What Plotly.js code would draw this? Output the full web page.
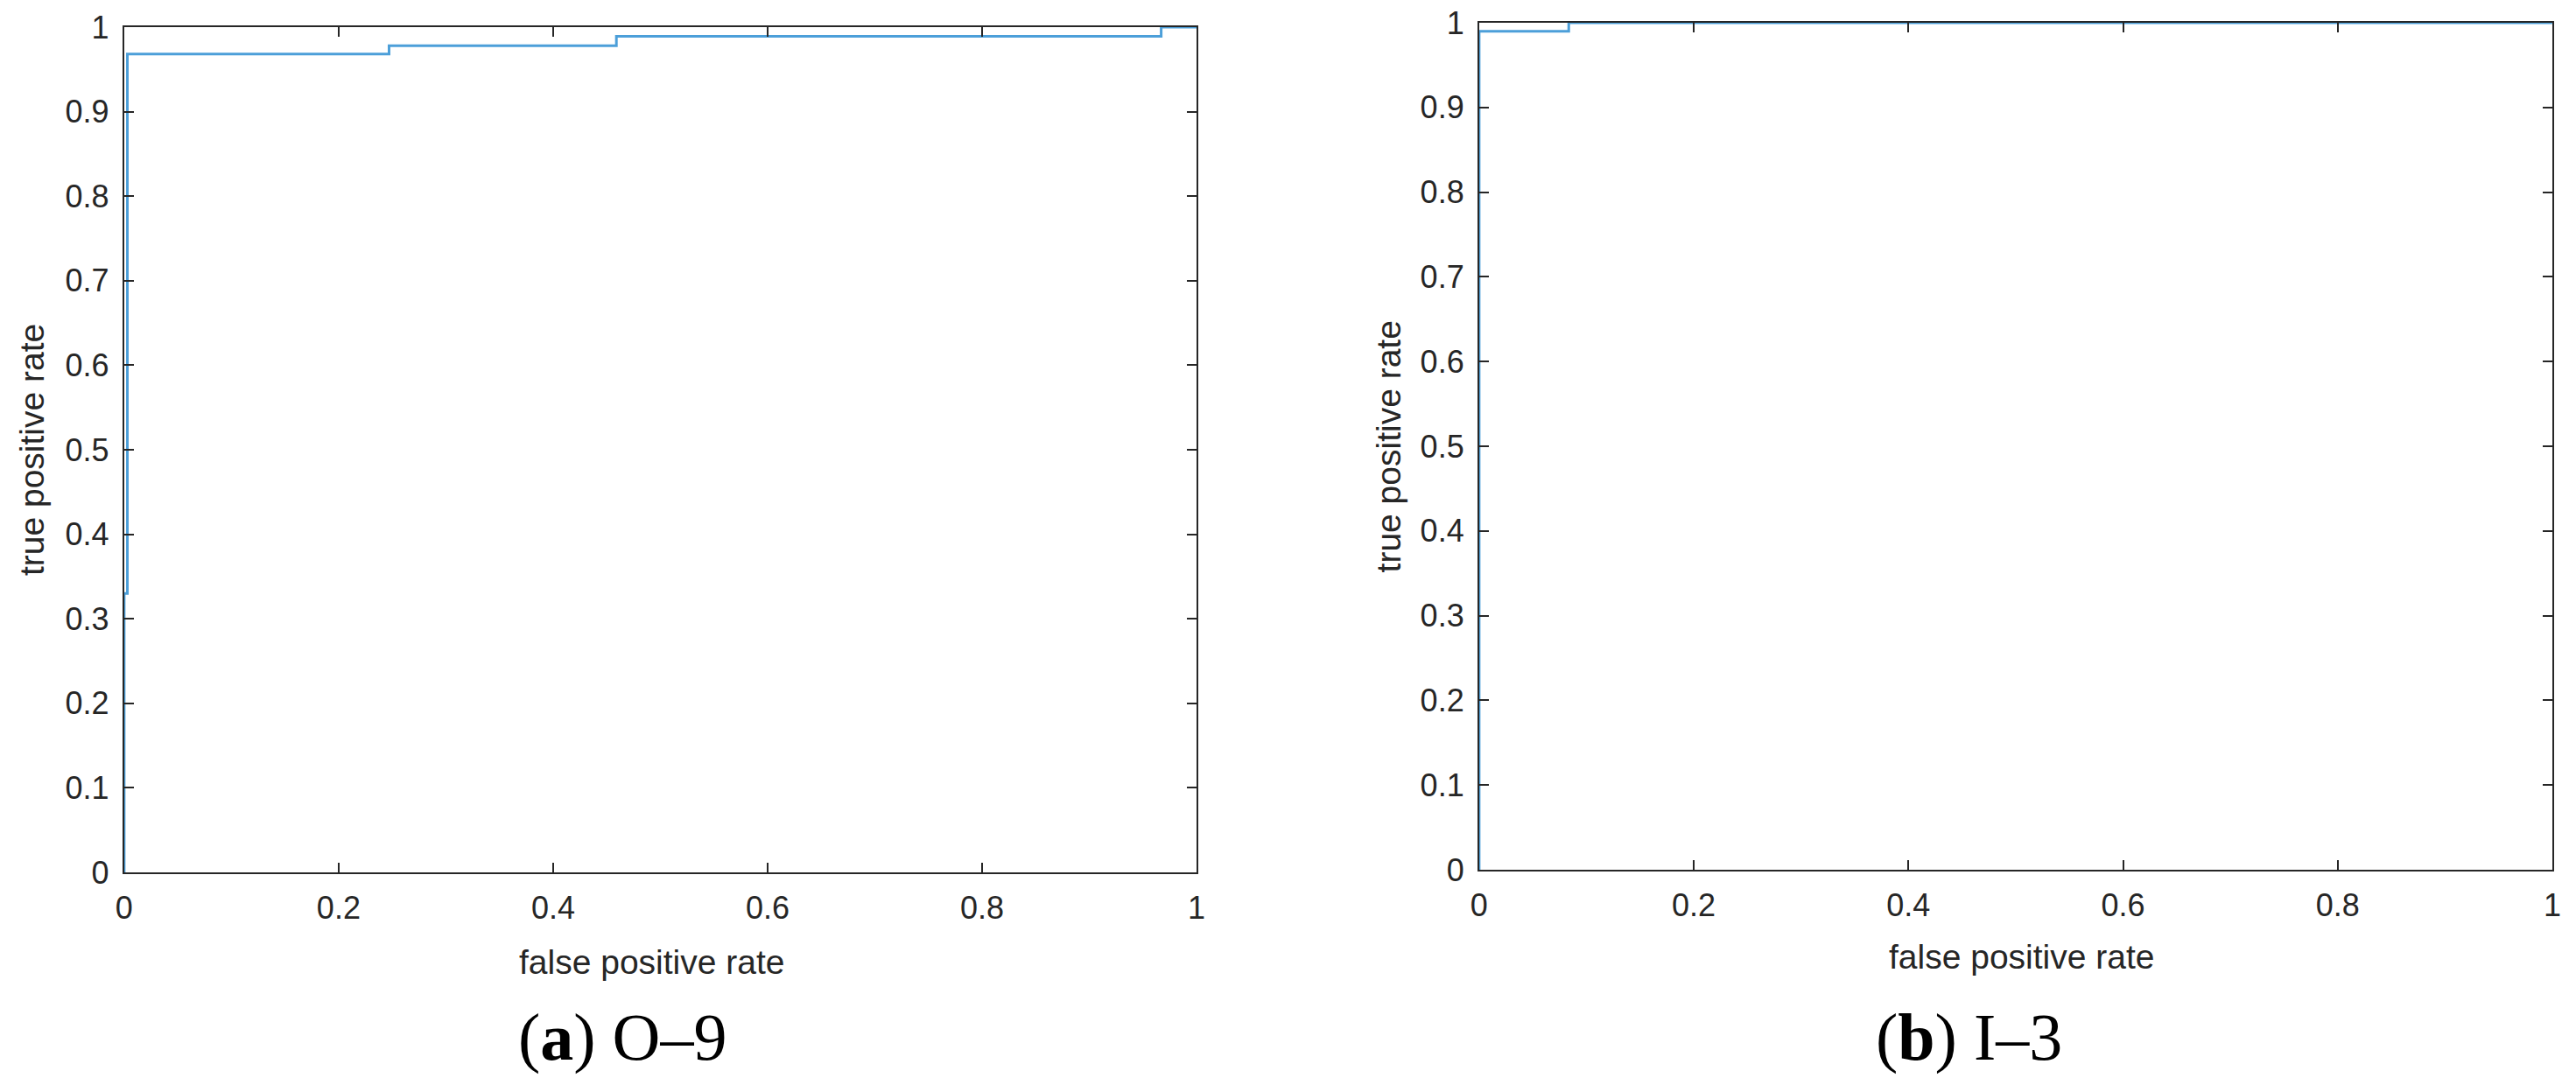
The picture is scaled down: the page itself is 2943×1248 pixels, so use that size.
<!DOCTYPE html>
<html>
<head>
<meta charset="utf-8">
<script src="https://cdn.plot.ly/plotly-3.0.1.min.js"></script>
<style>
  html, body { margin: 0; padding: 0; background: #fff; }
  #roc { width: 2943px; height: 1248px; }
</style>
</head>
<body>
<div id="roc"></div>
<script>
// ROC curve (a) O-9, step corners
var fprA = [0, 0, 0.003, 0.247, 0.459, 0.967, 1];
var tprA = [0, 0.33, 0.968, 0.978, 0.989, 1, 1];

// ROC curve (b) I-3
var fprB = [0, 0, 0.0835, 1];
var tprB = [0, 0.99, 1, 1];

var xTicks = [0, 0.2, 0.4, 0.6, 0.8, 1];
var yTicks = [0, 0.1, 0.2, 0.3, 0.4, 0.5, 0.6, 0.7, 0.8, 0.9, 1];

var xTitle = 'false positive rate';
var yTitle = 'true positive rate';
var captions = ['(<b>a</b>) O\u20139', '(<b>b</b>) I\u20133'];

var ink = '#262626';
var blue = '#4c9fd9';

function rocTrace(x, y, xa, ya) {
  return {
    x: x, y: y, xaxis: xa, yaxis: ya,
    type: 'scatter', mode: 'lines',
    line: { color: blue, width: 3, shape: 'hv' },
    hoverinfo: 'skip', showlegend: false
  };
}

function axis(domain, tickvals, anchor) {
  return {
    domain: domain,
    anchor: anchor,
    range: [0, 1],
    tickvals: tickvals,
    ticks: 'inside',
    ticklen: 11,
    tickwidth: 2,
    tickcolor: ink,
    showline: true,
    linecolor: ink,
    linewidth: 2,
    mirror: 'ticks',
    showgrid: false,
    zeroline: false,
    ticklabelstandoff: 8,
    tickfont: { family: 'Liberation Sans, Arial, sans-serif', size: 36, color: ink },
    fixedrange: true
  };
}

var data = [
  rocTrace(fprA, tprA, 'x', 'y'),
  rocTrace(fprB, tprB, 'x2', 'y2')
];

var titleFont = { family: 'Liberation Sans, Arial, sans-serif', size: 39, color: ink };
var capFont = { family: 'Liberation Serif, Times New Roman, serif', size: 76, color: '#000' };

function note(text, x, y, font, angle) {
  return {
    text: text, x: x, y: y, xref: 'paper', yref: 'paper',
    xanchor: 'center', yanchor: 'middle', showarrow: false,
    font: font, textangle: angle || 0
  };
}

var layout = {
  width: 2943,
  height: 1248,
  margin: { l: 0, r: 0, t: 0, b: 0 },
  paper_bgcolor: '#fff',
  plot_bgcolor: '#fff',
  showlegend: false,
  xaxis: axis([0.0482, 0.4645], xTicks, 'y'),
  yaxis: axis([0.2011, 0.9752], yTicks, 'x'),
  xaxis2: axis([0.5742, 0.9908], xTicks, 'y2'),
  yaxis2: axis([0.2035, 0.9792], yTicks, 'x2'),
  annotations: [
    note(xTitle, 0.2531, 0.1186, titleFont),
    note(xTitle, 0.7850, 0.124, titleFont),
    note(yTitle, 0.0122, 0.588, titleFont, -90),
    note(yTitle, 0.5389, 0.591, titleFont, -90),
    note(captions[0], 0.2416, 0.0497, capFont),
    note(captions[1], 0.7645, 0.0497, capFont)
  ]
};

Plotly.newPlot('roc', data, layout, { staticPlot: true });
</script>
</body>
</html>
